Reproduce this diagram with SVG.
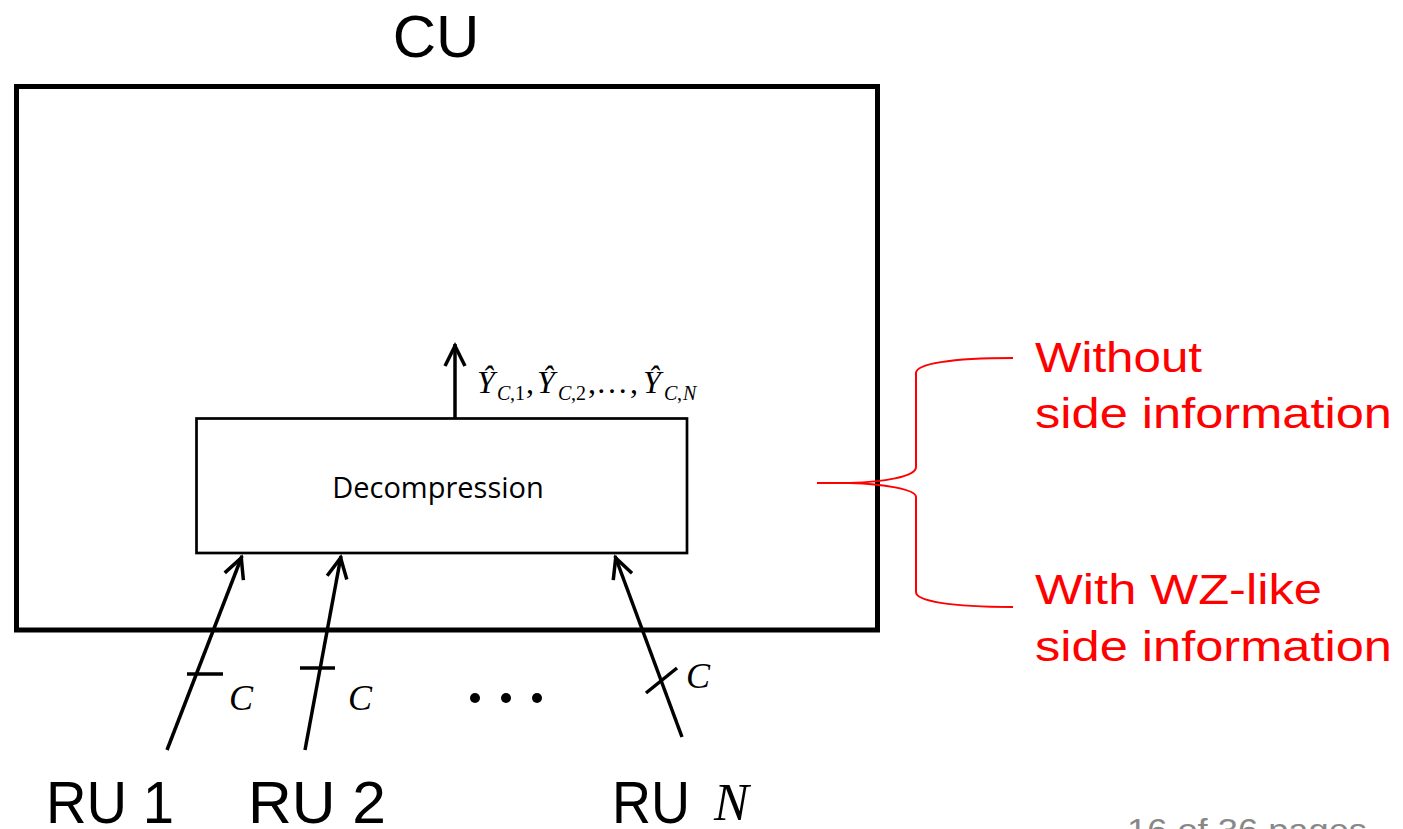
<svg xmlns="http://www.w3.org/2000/svg" width="1403" height="829" viewBox="0 0 1403 829">
<style>
.ln{fill:none;stroke:#000;stroke-width:3.5}
.box{fill:#fff;stroke:#000}
.math{font-family:"Liberation Serif",serif;font-style:italic;fill:#000}
.up{font-style:normal}
.big{font-family:"Liberation Sans",Arial,sans-serif;fill:#000}
.red{font-family:"Liberation Sans",Arial,sans-serif;fill:#ff0000;font-size:42px}
.brace{fill:none;stroke:#ff0000;stroke-width:2}
</style>
<defs>
<marker id="arr" markerUnits="userSpaceOnUse" markerWidth="30" markerHeight="30" viewBox="-25 -15 30 30" refX="0" refY="0" orient="auto" overflow="visible">
<path d="M-22,-10 L-2,0 L-22,10" fill="none" stroke="#000" stroke-width="3.5"/>
</marker>
</defs>
<rect width="1403" height="829" fill="#fff"/>

<g id="cu">
<rect class="box" x="16.5" y="86.5" width="861" height="543.5" stroke-width="5" fill="none"/>
<text class="big" x="436" y="57" font-size="60" text-anchor="middle">CU</text>
</g>

<g id="decompression">
<rect class="box" x="196.5" y="418.5" width="490.5" height="134.5" stroke-width="2.7"/>
<text x="438" y="498" font-family="'Open Sans','Noto Sans',sans-serif" font-size="29" text-anchor="middle" fill="#000">Decompression</text>
</g>

<g id="connectors">
<line class="ln" x1="455" y1="418" x2="455" y2="344" marker-end="url(#arr)"/>
<line class="ln" x1="167" y1="750" x2="242" y2="556" marker-end="url(#arr)"/>
<line class="ln" x1="305" y1="750" x2="341" y2="556" marker-end="url(#arr)"/>
<line class="ln" x1="682" y1="737" x2="615" y2="556" marker-end="url(#arr)"/>
<line class="ln" x1="187" y1="674" x2="223" y2="674" stroke-width="3"/>
<line class="ln" x1="300" y1="668" x2="335" y2="668" stroke-width="3"/>
<line class="ln" x1="646" y1="693" x2="677" y2="668" stroke-width="3"/>
</g>

<g id="output-label">
<text class="math" font-size="32">
<tspan x="477" y="393">Ŷ</tspan><tspan x="497" y="400" font-size="20">C</tspan><tspan x="510" y="400" font-size="20" class="up">,1</tspan><tspan x="526" y="393" class="up">,</tspan><tspan x="537" y="393">Ŷ</tspan><tspan x="558" y="400" font-size="20">C</tspan><tspan x="571" y="400" font-size="20" class="up">,2</tspan><tspan x="588" y="393" class="up">,</tspan><tspan x="596" y="393" class="up">…</tspan><tspan x="630" y="393" class="up">,</tspan><tspan x="643" y="393">Ŷ</tspan><tspan x="664" y="400" font-size="20">C</tspan><tspan x="677" y="400" font-size="20" class="up">,</tspan><tspan x="683" y="400" font-size="20">N</tspan>
</text>
</g>

<g id="capacity-labels">
<text class="math" x="229" y="710" font-size="36">C</text>
<text class="math" x="348" y="710" font-size="36">C</text>
<text class="math" x="686" y="688" font-size="36">C</text>
<circle cx="475" cy="698" r="5"/>
<circle cx="506" cy="698" r="5"/>
<circle cx="537" cy="698" r="5"/>
</g>

<g id="ru1"><text class="big" x="46" y="823" font-size="60" textLength="128" lengthAdjust="spacingAndGlyphs">RU 1</text></g>
<g id="ru2"><text class="big" x="248" y="823" font-size="60" textLength="138" lengthAdjust="spacingAndGlyphs">RU 2</text></g>
<g id="run"><text class="big" x="612" y="823" font-size="60" textLength="78" lengthAdjust="spacingAndGlyphs">RU</text><text class="math" x="714" y="820" font-size="52">N</text></g>

<g id="brace">
<path class="brace" d="M817,483 L850,483 C882,482 916,477 916,467 L916,373 C916,364 950,358 1013,358"/>
<path class="brace" d="M850,483 C882,484 916,489 916,497 L916,592 C916,601 950,607 1013,607"/>
</g>

<g id="annotations">
<text class="red" x="1035" y="372" textLength="167" lengthAdjust="spacingAndGlyphs">Without</text>
<text class="red" x="1035" y="428" textLength="357" lengthAdjust="spacingAndGlyphs">side information</text>
<text class="red" x="1035" y="604" textLength="287" lengthAdjust="spacingAndGlyphs">With WZ-like</text>
<text class="red" x="1035" y="661" textLength="357" lengthAdjust="spacingAndGlyphs">side information</text>
</g>

<g id="footer">
<text x="1127" y="841" font-family="'Liberation Sans',Arial,sans-serif" font-size="32" fill="#888" textLength="240" lengthAdjust="spacingAndGlyphs">16 of 36 pages</text>
</g>
</svg>
